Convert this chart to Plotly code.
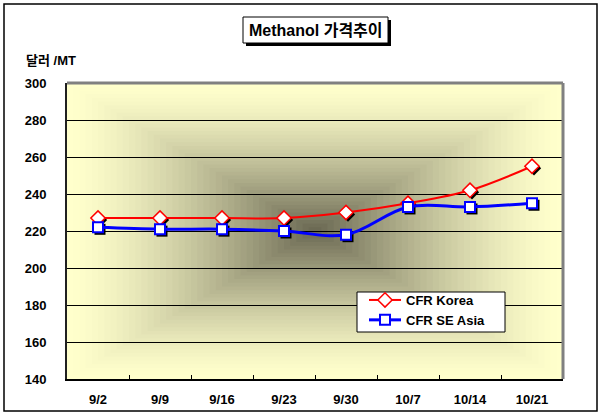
import plotly.graph_objects as go

# ---- data ----
dates = ["9/2", "9/9", "9/16", "9/23", "9/30", "10/7", "10/14", "10/21"]
cfr_korea = [227, 227, 227, 227, 230, 235, 242, 255]
cfr_se_asia = [222, 221, 221, 220, 218, 233, 233, 235]
y_ticks = [140, 160, 180, 200, 220, 240, 260, 280, 300]

W, H = 601, 419
ML, MR, MT, MB = 67, 38, 83, 40
PW, PH = W - ML - MR, H - MT - MB
YMIN, YMAX = 140, 300

FONT = "Arial, 'Liberation Sans', 'Noto Sans CJK KR', sans-serif"
TXT = dict(family=FONT, size=13, color="black", weight="bold")

def px_x(px):
    return (px - ML) / PW

def px_y(py):
    return (H - MB - py) / PH

fig = go.Figure()

# base axes holder (gridlines, labels)
fig.add_trace(go.Scatter(x=dates, y=[None] * len(dates), xaxis="x", yaxis="y",
                         showlegend=False, hoverinfo="skip"))

# shadows of markers (shifted overlay axes)
fig.add_trace(go.Scatter(x=dates, y=cfr_korea, xaxis="x2", yaxis="y2", mode="markers",
                         marker=dict(symbol="diamond", size=11, color="black"),
                         showlegend=False, hoverinfo="skip"))
fig.add_trace(go.Scatter(x=dates, y=cfr_se_asia, xaxis="x2", yaxis="y2", mode="markers",
                         marker=dict(symbol="square", size=11, color="black"),
                         showlegend=False, hoverinfo="skip"))

# main series
fig.add_trace(go.Scatter(x=dates, y=cfr_korea, xaxis="x3", yaxis="y3", name="CFR Korea",
                         mode="lines+markers", line=dict(color="#FF0000", width=2, shape="spline"),
                         marker=dict(symbol="diamond", size=11, color="white",
                                     line=dict(color="#FF0000", width=1.5))))
fig.add_trace(go.Scatter(x=dates, y=cfr_se_asia, xaxis="x3", yaxis="y3", name="CFR SE Asia",
                         mode="lines+markers", line=dict(color="#0000FF", width=3, shape="spline"),
                         marker=dict(symbol="square", size=10, color="white",
                                     line=dict(color="#0000FF", width=2))))

# gradient background (rectangular, from centre)
outer = (255, 255, 204)
center = (108, 106, 84)
shapes = []
N = 40
for i in range(N):
    f = i / N
    t = (i / (N - 1)) ** 1.4
    c = tuple(round(outer[k] + (center[k] - outer[k]) * t) for k in range(3))
    shapes.append(dict(type="rect", xref="paper", yref="paper",
                       x0=0.5 * f, x1=1 - 0.5 * f, y0=0.5 * f, y1=1 - 0.5 * f,
                       fillcolor="rgb(%d,%d,%d)" % c, line=dict(width=0), layer="below"))

# plot-area top/right gray border
shapes.append(dict(type="line", xref="paper", yref="paper", x0=0, x1=1, y0=1, y1=1,
                   line=dict(color="#808080", width=3), layer="above"))
shapes.append(dict(type="line", xref="paper", yref="paper", x0=1, x1=1, y0=0, y1=1,
                   line=dict(color="#808080", width=3), layer="above"))
# outer chart border
shapes.append(dict(type="rect", xref="paper", yref="paper",
                   x0=px_x(4), x1=px_x(597), y0=px_y(411), y1=px_y(4),
                   line=dict(color="black", width=1.5), layer="above"))
# title box shadow + box
shapes.append(dict(type="rect", xref="paper", yref="paper",
                   x0=px_x(246), x1=px_x(391), y0=px_y(46), y1=px_y(20),
                   fillcolor="black", line=dict(width=0), layer="above"))
shapes.append(dict(type="rect", xref="paper", yref="paper",
                   x0=px_x(243), x1=px_x(388), y0=px_y(43), y1=px_y(17),
                   fillcolor="white", line=dict(color="black", width=1), layer="above"))
# legend box
shapes.append(dict(type="rect", xref="paper", yref="paper",
                   x0=px_x(357), x1=px_x(505), y0=px_y(332), y1=px_y(292),
                   fillcolor="white", line=dict(color="black", width=1), layer="above"))

annotations = [
    dict(text="Methanol 가격추이", xref="paper", yref="paper", x=px_x(315.5), y=px_y(30.5),
         showarrow=False, xanchor="center", yanchor="middle",
         font=dict(family=FONT, size=16, color="black", weight="bold")),
    dict(text="달러 /MT", xref="paper", yref="paper", x=px_x(51), y=px_y(61),
         showarrow=False, xanchor="center", yanchor="middle", font=TXT),
]

dx = 2 * 8 / PW
dy = 2 * (YMAX - YMIN) / PH

fig.update_layout(
    width=W, height=H,
    margin=dict(l=ML, r=MR, t=MT, b=MB, pad=0),
    paper_bgcolor="white",
    plot_bgcolor="rgb(255,255,204)",
    showlegend=True,
    legend=dict(x=px_x(364), y=px_y(285), xanchor="left", yanchor="top",
                bgcolor="rgba(0,0,0,0)", borderwidth=0,
                font=TXT, itemwidth=32, tracegroupgap=0),
    xaxis=dict(type="category", categoryorder="array", categoryarray=dates,
               range=[-0.5, 7.5], showgrid=False, zeroline=False,
               showline=True, linecolor="black", linewidth=2,
               ticks="inside", tickson="boundaries", ticklen=4, tickcolor="black",
               tickfont=TXT, ticklabelstandoff=7, fixedrange=True),
    yaxis=dict(range=[YMIN, YMAX], tickvals=y_ticks, showgrid=True, gridcolor="black",
               gridwidth=1, zeroline=False, showline=True, linecolor="#202020", linewidth=2,
               ticks="", tickfont=TXT, ticklabelstandoff=16, fixedrange=True),
    xaxis2=dict(type="category", categoryorder="array", categoryarray=dates,
                overlaying="x", range=[-0.5 - dx, 7.5 - dx], visible=False, fixedrange=True),
    yaxis2=dict(overlaying="y", range=[YMIN + dy, YMAX + dy], visible=False, fixedrange=True),
    xaxis3=dict(type="category", categoryorder="array", categoryarray=dates,
                overlaying="x", range=[-0.5, 7.5], visible=False, fixedrange=True),
    yaxis3=dict(overlaying="y", range=[YMIN, YMAX], visible=False, fixedrange=True),
    shapes=shapes,
    annotations=annotations,
)

fig.write_html("out.html", config={"displayModeBar": False},
               post_script="document.body.style.margin='0';")
